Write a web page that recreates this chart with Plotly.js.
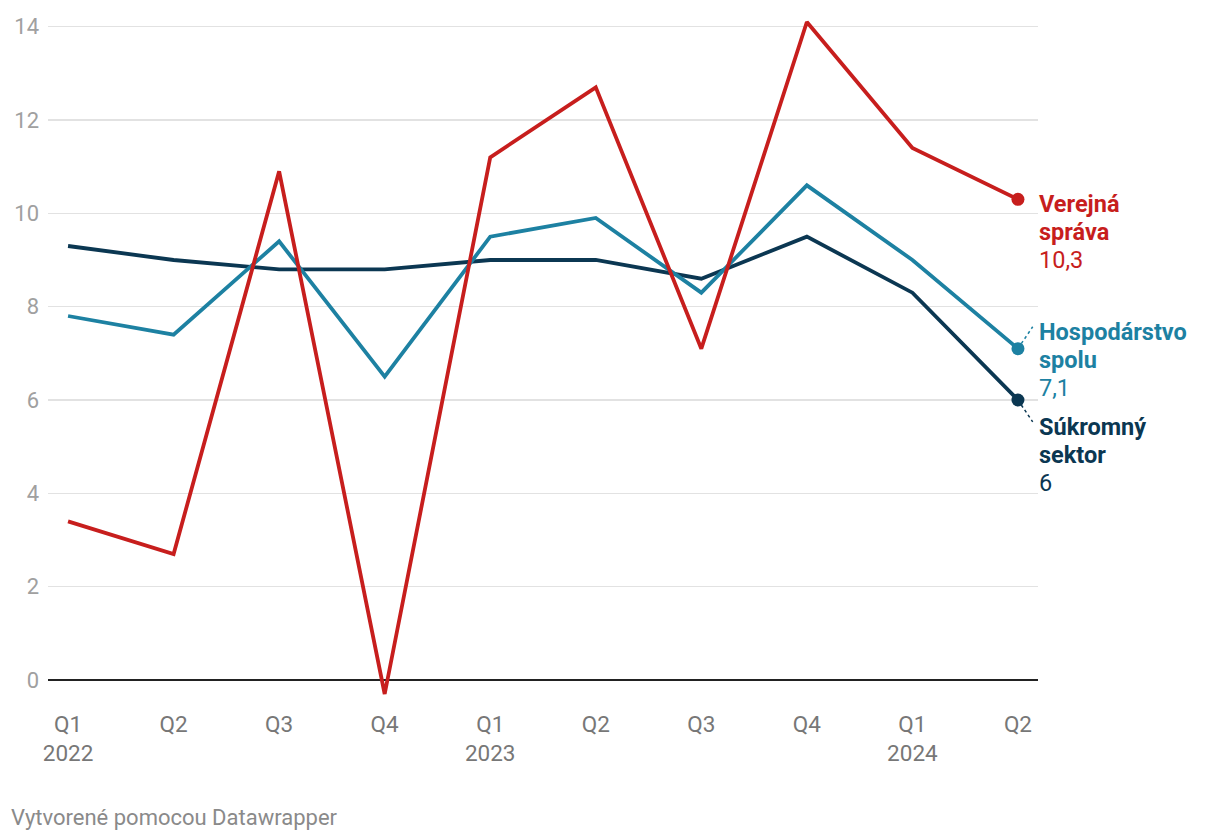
<!DOCTYPE html>
<html>
<head>
<meta charset="utf-8">
<script src="https://cdn.plot.ly/plotly-3.0.1.min.js"></script>
<style>html,body{margin:0;padding:0;background:#fff;}#chart{width:1220px;height:840px;}</style>
</head>
<body>
<div id="chart"></div>
<script>
const quarters = ["Q1<br>2022","Q2","Q3","Q4","Q1<br>2023","Q2","Q3","Q4","Q1<br>2024","Q2"];
const verejnaSprava = [3.4, 2.7, 10.9, -0.3, 11.2, 12.7, 7.1, 14.1, 11.4, 10.3];
const hospodarstvoSpolu = [7.8, 7.4, 9.4, 6.5, 9.5, 9.9, 8.3, 10.6, 9.0, 7.1];
const sukromnySektor = [9.3, 9.0, 8.8, 8.8, 9.0, 9.0, 8.6, 9.5, 8.3, 6.0];
const seriesNameLines = [["Verejná", "správa"], ["Hospodárstvo", "spolu"], ["Súkromný", "sektor"]];
const yTicks = [0, 2, 4, 6, 8, 10, 12, 14];

const colors = ["#c71e1d", "#1d81a2", "#0b3752"];
const idx = quarters.map((_, i) => i);
const last = idx.length - 1;
const allSeries = [verejnaSprava, hospodarstvoSpolu, sukromnySektor];

const traces = [];
[2, 1, 0].forEach(s => {
  traces.push({
    x: idx, y: allSeries[s], type: 'scatter', mode: 'lines',
    line: {color: colors[s], width: 3.8}, hoverinfo: 'skip', showlegend: false
  });
  traces.push({
    x: [idx[last]], y: [allSeries[s][last]], type: 'scatter', mode: 'markers',
    marker: {color: colors[s], size: 13}, hoverinfo: 'skip', showlegend: false
  });
});

const fmt = v => String(v).replace('.', ',');
const labelY = [9.61, 6.86, 4.82];
const annotations = [];
allSeries.forEach((arr, s) => {
  const lines = ['<b>' + seriesNameLines[s][0] + '</b>', '<b>' + seriesNameLines[s][1] + '</b>', fmt(arr[last])];
  lines.forEach((t, k) => {
    annotations.push({
      x: idx[last], y: labelY[s], xref: 'x', yref: 'y',
      xanchor: 'left', yanchor: 'middle', xshift: 19, yshift: (1 - k) * 28,
      align: 'left', showarrow: false, text: t,
      font: {family: 'Roboto', size: 23.5, color: colors[s]}
    });
  });
});
annotations.push({
  x: 0, y: 0, xref: 'paper', yref: 'paper', xanchor: 'left', yanchor: 'bottom',
  xshift: -39, yshift: -124, showarrow: false,
  text: 'Vytvorené pomocou Datawrapper',
  font: {family: 'Roboto', size: 22, color: '#8a8a8a'}
});

const shapes = [
  {type: 'line', xref: 'x', yref: 'y', x0: idx[last], y0: hospodarstvoSpolu[last], x1: idx[last] + 0.14, y1: hospodarstvoSpolu[last] + 0.47,
   line: {color: colors[1], width: 1.5, dash: 'dot'}, layer: 'below'},
  {type: 'line', xref: 'x', yref: 'y', x0: idx[last], y0: sukromnySektor[last], x1: idx[last] + 0.14, y1: sukromnySektor[last] - 0.47,
   line: {color: colors[2], width: 1.5, dash: 'dot'}, layer: 'below'}
];

const layout = {
  width: 1220, height: 840,
  margin: {l: 48, r: 182, t: 8, b: 132},
  paper_bgcolor: '#fff', plot_bgcolor: '#fff',
  font: {family: 'Roboto', color: '#777'},
  xaxis: {
    range: [-0.19, 9.19], tickvals: idx, ticktext: quarters,
    showgrid: false, zeroline: false, showline: false, ticks: '',
    tickfont: {family: 'Roboto', size: 22.5, color: '#777'}, ticklabelstandoff: 0,
    fixedrange: true
  },
  yaxis: {
    range: [-0.6, 14.4], tickvals: yTicks, ticktext: yTicks.map(String),
    showgrid: true, gridcolor: '#e2e2e2', gridwidth: 1.5,
    zeroline: true, zerolinecolor: '#222', zerolinewidth: 2,
    showline: false, ticks: '', ticklabelstandoff: 8,
    tickfont: {family: 'Roboto', size: 22, color: '#a0a0a0'},
    fixedrange: true
  },
  annotations: annotations,
  shapes: shapes,
  showlegend: false
};

Plotly.newPlot('chart', traces, layout, {displayModeBar: false, staticPlot: true});
</script>
</body>
</html>
